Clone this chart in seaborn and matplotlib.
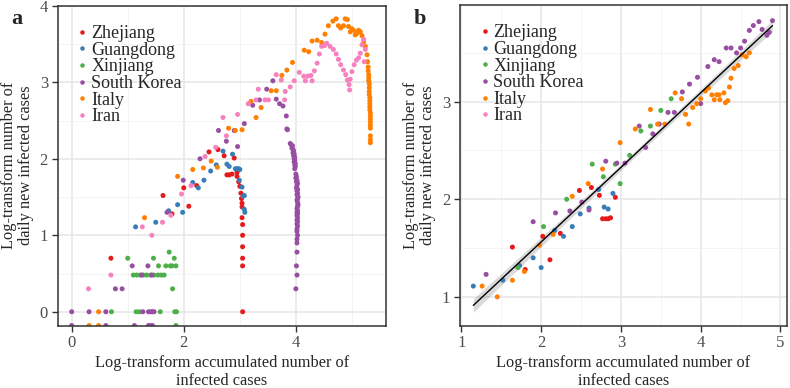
import numpy as np
import pandas as pd
import matplotlib
matplotlib.use("Agg")
import matplotlib.pyplot as plt
import seaborn as sns
from matplotlib.ticker import MultipleLocator

regions = ["Zhejiang", "Guangdong", "Xinjiang", "South Korea", "Italy", "Iran"]
colors = ["#E41A1C", "#377EB8", "#4DAF4A", "#984EA3", "#FF7F00", "#F781BF"]
NEG = -np.inf  # log10(0): drawn on the panel edge, as ggplot does

# ---------------- panel a : all days ----------------
zj_a_x = [0.70, 1.63, 1.79, 2.00, 2.09, 2.23, 2.45, 2.61, 2.72, 2.77, 2.81, 2.86, 2.90, 2.95,
          2.95, 2.98, 3.00, 3.02, 3.03, 3.04, 3.04, 3.04, 3.05, 3.05, 3.05, 3.05, 3.05, 3.05]
zj_a_y = [0.70, 1.52, 1.28, 1.62, 1.38, 1.65, 2.09, 2.12, 2.04, 1.79, 1.79, 1.80, 2.01, 1.82,
          1.77, 1.70, 1.64, 1.55, 1.48, 1.42, 1.37, 1.23, 1.14, 1.00, 0.85, 0.70, 0.60, 0.00]

gd_a_x = [1.14, 1.50, 1.73, 1.89, 1.98, 2.16, 2.26, 2.36, 2.48, 2.58, 2.70, 2.77, 2.81, 2.87,
          2.92, 2.95, 2.98, 3.00, 2.99, 3.04, 3.06, 3.08, 3.08, 3.09]
gd_a_y = [1.11, 1.17, 1.32, 1.40, 1.30, 1.69, 1.62, 1.72, 1.84, 1.92, 2.10, 1.93, 1.90, 2.06,
          1.87, 1.87, 1.87, 1.86, 1.72, 1.63, 1.51, 1.52, 1.34, 1.30]

xj_a_x = [0.71, 1.15, 1.21, 1.58, 1.84, 1.87, 1.86, 1.80, 1.10, 1.16, 1.22, 1.28, 1.34, 1.41,
          1.47, 1.54, 1.60, 1.65, 1.55, 1.68, 1.76, 1.79, 1.86, 1.00, 1.46, 1.83, 1.74]
xj_a_y = [0.00, 0.00, 0.00, 0.00, 0.00, 0.00, NEG, 0.30, 0.48, 0.48, 0.48, 0.48, 0.48, 0.48,
          0.48, 0.48, 0.48, 0.48, 0.60, 0.60, 0.60, 0.60, 0.60, 0.70, 0.70, 0.70, 0.78]

sk_a_x = [0.00, 0.31, 0.61, 1.27, 1.37, 1.41, 1.44, 1.47, 0.00, 0.61, 1.12, 1.37, 1.41, 1.44,
          0.78, 0.90, 1.25, 1.43, 1.08, 1.36, 1.70, 1.99, 2.29, 2.62, 2.76, 2.90, 2.96, 3.08,
          3.23, 3.35, 3.48, 3.59, 3.65, 3.71, 3.77, 3.83, 3.84, 3.85,
          3.90, 3.92, 3.94, 3.93, 3.95, 3.96, 3.95, 3.97, 3.96, 3.98, 3.97, 3.98, 3.97, 3.99,
          3.98, 3.99, 3.98, 4.00, 4.01, 4.00, 4.02, 4.01, 4.03, 4.02, 4.01, 4.03, 4.02, 4.03,
          4.02, 4.04, 4.03, 4.02, 4.03, 4.04, 4.03, 4.02, 4.03, 4.02, 4.03, 4.02, 4.03, 4.02,
          4.03, 4.02, 4.03, 4.02, 4.02, 4.03, 4.02, 4.02, 4.02, 4.01, 4.02, 4.00]
sk_a_y = [0.00, 0.00, 0.00, 0.00, 0.00, 0.00, 0.00, 0.00, NEG, NEG, NEG, NEG, NEG, NEG,
          0.30, 0.30, 0.48, 0.48, 0.60, 0.60, 1.30, 1.72, 2.00, 2.37, 2.23, 2.37, 2.16, 2.46,
          2.70, 2.77, 2.91, 3.02, 2.78, 2.72, 2.69, 2.56, 2.39, 2.38,
          2.20, 2.18, 2.17, 2.14, 2.12, 2.10, 2.08, 2.06, 2.04, 2.02, 2.00, 1.98, 1.96, 1.94,
          1.92, 1.90, 1.87, 1.80, 1.77, 1.75, 1.72, 1.70, 1.68, 1.65, 1.62, 1.60, 1.58, 1.55,
          1.53, 1.50, 1.48, 1.46, 1.43, 1.40, 1.38, 1.35, 1.32, 1.30, 1.28, 1.26, 1.23, 1.20,
          1.18, 1.15, 1.12, 1.08, 1.05, 1.00, 0.95, 0.90, 0.78, 0.60, 0.48, 0.30]

it_a_x = [0.48, 0.31, 0.48, 1.30, 1.89, 2.16, 2.35, 2.49, 2.60, 2.80, 2.92, 3.04, 3.20, 3.29,
          3.38, 3.56, 3.65, 3.75, 3.84, 3.94, 4.15, 4.23, 4.29, 4.38, 4.46, 4.52, 4.58, 4.66,
          4.72, 4.76, 4.80, 4.85, 4.88, 4.92, 4.94, 4.97, 5.00, 5.03, 5.06, 5.09, 5.12, 5.15,
          5.18, 5.21, 5.24, 5.27, 5.28, 5.29, 5.29, 5.30, 5.30, 5.30, 5.31, 5.31, 5.31, 5.31,
          5.32, 5.32, 5.32, 5.32, 5.32, 5.33, 5.33, 5.33, 5.33, 5.33, 5.33, 5.33, 5.33, 5.33]
it_a_y = [0.00, NEG, NEG, 1.23, 1.77, 1.86, 1.88, 1.97, 1.89, 2.40, 2.37, 2.38, 2.75, 2.54,
          2.67, 2.89, 2.89, 3.09, 3.16, 3.26, 3.42, 3.40, 3.54, 3.55, 3.52, 3.63, 3.74, 3.80,
          3.83, 3.74, 3.71, 3.74, 3.83, 3.82, 3.73, 3.66, 3.70, 3.68, 3.62, 3.64, 3.68, 3.66,
          3.61, 3.53, 3.47, 3.36, 3.27, 3.20, 3.15, 3.10, 3.06, 3.02, 2.98, 2.93, 2.88, 2.84,
          2.80, 2.76, 2.72, 2.68, 2.64, 2.60, 2.56, 2.52, 2.48, 2.44, 2.40, 2.30, 2.25, 2.21]

ir_a_x = [0.30, 0.70, 1.26, 1.43, 1.62, 1.77, 1.96, 2.13, 2.38, 2.57, 2.70, 2.76, 2.96, 3.15,
          3.29, 3.33, 3.45, 3.51, 3.65, 3.74, 3.80, 3.81, 3.90, 3.97, 4.06, 4.14, 4.17, 4.21,
          4.27, 4.29, 4.33, 4.38, 4.42, 4.46, 4.51, 4.55, 4.61, 4.67, 4.72, 4.76, 4.80, 4.85,
          4.89, 4.92, 4.95, 4.96, 4.97, 5.00, 5.04, 5.08, 5.12, 5.15, 5.18, 5.21, 5.24, 5.22]
ir_a_y = [0.30, 0.48, 1.11, 1.00, 1.17, 1.26, 1.54, 1.65, 2.03, 2.15, 2.54, 2.30, 2.58, 2.72,
          2.77, 2.91, 2.77, 2.77, 3.10, 3.03, 2.77, 2.88, 2.94, 3.02, 3.13, 3.08, 3.02, 3.08,
          3.09, 3.02, 3.15, 3.25, 3.37, 3.47, 3.48, 3.51, 3.47, 3.43, 3.37, 3.30, 3.23, 3.16,
          3.10, 3.03, 2.97, 2.90, 3.04, 3.14, 3.23, 3.29, 3.32, 3.38, 3.49, 3.56, 3.43, 3.27]

# ---------------- panel b : growth phase ----------------
zj_b_x = [1.64, 1.80, 2.02, 2.11, 2.24, 2.48, 2.63, 2.73, 2.77, 2.81, 2.84, 2.87, 2.93]
zj_b_y = [1.51, 1.28, 1.62, 1.38, 1.65, 2.09, 2.12, 2.04, 1.80, 1.80, 1.80, 1.81, 2.02]

gd_b_x = [1.15, 1.52, 1.73, 1.90, 2.00, 2.17, 2.28, 2.39, 2.49, 2.60, 2.72, 2.79, 2.84, 2.90]
gd_b_y = [1.11, 1.17, 1.32, 1.40, 1.30, 1.68, 1.62, 1.72, 1.85, 1.91, 2.10, 1.92, 1.90, 2.06]

xj_b_x = [1.71, 2.03, 2.32, 2.64, 2.78, 2.93, 2.99, 3.11, 3.25, 3.37, 3.50, 3.63]
xj_b_y = [1.30, 1.72, 2.00, 2.36, 2.23, 2.36, 2.16, 2.45, 2.70, 2.75, 2.91, 3.03]

sk_b_x = [1.31, 1.90, 2.18, 2.36, 2.51, 2.60, 2.81, 2.95, 3.05, 3.23, 3.31, 3.40, 3.48, 3.59,
          3.67, 3.77, 3.86, 3.96, 4.00, 4.09, 4.17, 4.23, 4.32, 4.38, 4.45, 4.50, 4.55, 4.61,
          4.66, 4.73, 4.77, 4.83, 4.86, 4.90]
sk_b_y = [1.23, 1.77, 1.86, 1.88, 1.97, 1.89, 2.39, 2.37, 2.37, 2.75, 2.53, 2.67, 2.77, 2.89,
          2.89, 3.10, 3.18, 3.25, 2.98, 3.36, 3.43, 3.41, 3.55, 3.55, 3.50, 3.55, 3.62, 3.73,
          3.78, 3.82, 3.74, 3.68, 3.71, 3.83]

it_b_x = [1.26, 1.45, 1.64, 1.79, 1.98, 2.15, 2.39, 2.59, 2.77, 2.99, 3.18, 3.37, 3.46, 3.55,
          3.68, 3.76, 3.81, 3.85, 3.90, 3.95, 4.00, 4.06, 4.10, 4.14, 4.17, 4.20, 4.23, 4.24,
          4.29, 4.31, 4.34, 4.36, 4.38, 4.42, 4.47, 4.52, 4.57, 4.61]
it_b_y = [1.11, 1.00, 1.17, 1.26, 1.53, 1.64, 2.03, 2.16, 2.31, 2.58, 2.72, 2.92, 2.77, 2.77,
          3.09, 3.03, 2.87, 2.77, 2.94, 2.98, 3.03, 3.11, 3.14, 3.07, 3.02, 3.07, 3.07, 3.02,
          3.09, 2.99, 3.01, 3.15, 3.24, 3.34, 3.37, 3.48, 3.46, 3.50]

ir_b_x = []
ir_b_y = []

panel_a = [(zj_a_x, zj_a_y), (gd_a_x, gd_a_y), (xj_a_x, xj_a_y),
           (sk_a_x, sk_a_y), (it_a_x, it_a_y), (ir_a_x, ir_a_y)]
panel_b = [(zj_b_x, zj_b_y), (gd_b_x, gd_b_y), (xj_b_x, xj_b_y),
           (sk_b_x, sk_b_y), (it_b_x, it_b_y), (ir_b_x, ir_b_y)]


def to_frame(series):
    parts = []
    for name, (xs, ys) in zip(regions, series):
        parts.append(pd.DataFrame({"x": np.asarray(xs, dtype=float),
                                   "y": np.asarray(ys, dtype=float), "region": name}))
    df = pd.concat(parts, ignore_index=True)
    df["region"] = pd.Categorical(df["region"], categories=regions)
    return df


df_a = to_frame(panel_a)
df_b = to_frame(panel_b)

sns.set_theme(style="whitegrid")
plt.rcParams["font.family"] = ["Liberation Serif", "DejaVu Serif"]

fig = plt.figure(figsize=(7.9, 3.88), dpi=100)
ax_a = fig.add_axes([0.073, 0.161, 0.415, 0.824])
ax_b = fig.add_axes([0.582, 0.161, 0.414, 0.826])

palette = dict(zip(regions, colors))


def style_axis(ax, xlim, ylim, xmaj, ymaj):
    ax.set_xlim(*xlim)
    ax.set_ylim(*ylim)
    ax.xaxis.set_major_locator(MultipleLocator(xmaj))
    ax.yaxis.set_major_locator(MultipleLocator(ymaj))
    ax.xaxis.set_minor_locator(MultipleLocator(xmaj / 2))
    ax.yaxis.set_minor_locator(MultipleLocator(ymaj / 2))
    ax.grid(which="major", color="#e6e6e6", linewidth=1.1)
    ax.grid(which="minor", color="#f2f2f2", linewidth=0.6)
    ax.set_axisbelow(True)
    for sp in ax.spines.values():
        sp.set_color("#333333")
        sp.set_linewidth(1.1)
    ax.tick_params(which="major", direction="out", length=4, width=1.0, color="#333333",
                   labelsize=12, labelcolor="#4d4d4d", pad=3, bottom=True, left=True)
    ax.tick_params(which="minor", length=0)
    ax.set_xlabel("Log-transform accumulated number of\ninfected cases", fontsize=11.8,
                  labelpad=3, linespacing=1.12)
    ax.set_ylabel("Log-transform number of\ndaily new infected cases", fontsize=11.8,
                  labelpad=4, linespacing=1.12)
    ax.legend(loc="upper left", bbox_to_anchor=(0.055, 0.94), frameon=False, fontsize=13,
              handlelength=0.75, handletextpad=0.12, labelspacing=-0.02, borderpad=0.0,
              borderaxespad=0.0, markerscale=0.9)


# panel a
ylim_a = (-0.18, 4.0)
plot_a = df_a.copy()
plot_a["y"] = plot_a["y"].replace(-np.inf, ylim_a[0])
sns.scatterplot(data=plot_a, x="x", y="y", hue="region", hue_order=regions, palette=palette,
                s=13, linewidth=0, ax=ax_a)
style_axis(ax_a, (-0.25, 5.6), ylim_a, 2, 1)

# panel b
sns.regplot(data=df_b, x="x", y="y", scatter=False, ci=95, ax=ax_b,
            line_kws={"color": "black", "linewidth": 1.0}, color="#999999")
sns.scatterplot(data=df_b, x="x", y="y", hue="region", hue_order=regions, palette=palette,
                s=13, linewidth=0, ax=ax_b)
style_axis(ax_b, (0.98, 5.08), (0.706, 3.99), 1, 1)

fig.text(0.0215, 0.951, "a", fontsize=16, fontweight="bold", ha="center", va="center")
fig.text(0.532, 0.951, "b", fontsize=16, fontweight="bold", ha="center", va="center")

fig.savefig("out.png", dpi=100)
